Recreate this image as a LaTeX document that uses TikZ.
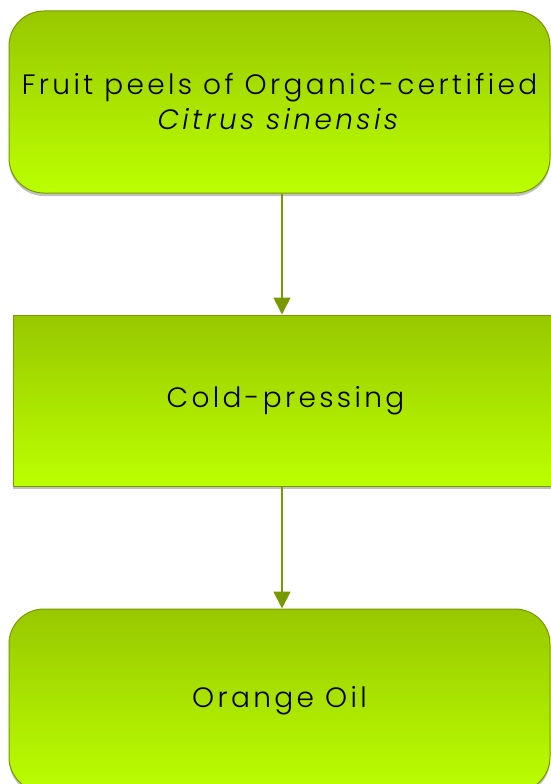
\documentclass[tikz,border=0pt]{standalone}
\usepackage{fontspec}
\setmainfont{Poppins}[UprightFont=* Light, ItalicFont=* Light Italic, LetterSpace=12]
\usetikzlibrary{positioning,shadows,arrows.meta}

\definecolor{leafdark}{HTML}{98C800}
\definecolor{leaflight}{HTML}{BBFF00}
\definecolor{olive}{HTML}{789A00}

\tikzset{
  stepnode/.style={draw=olive, line width=1pt, top color=leafdark, bottom color=leaflight,
                   align=center, font=\fontsize{28}{35}\selectfont,
                   drop shadow={shadow xshift=0pt, shadow yshift=-3pt, opacity=0.35, fill=black!70}},
  roundnode/.style={stepnode, rounded corners=35pt},
  flow/.style={draw=olive, line width=1.8pt, -{Triangle[length=17pt,width=17pt]}}
}

\begin{document}
\begin{tikzpicture}[x=1pt,y=-1pt]
  \useasboundingbox (0,0) rectangle (551,784);
  \clip (0,0) rectangle (551,784);

  \node[roundnode, minimum width=541pt, minimum height=182pt] (peels) at (279.5,102)
    {Fruit peels of Organic-certified\\\textit{Citrus sinensis}};
  \node[stepnode, minimum width=545pt, minimum height=171pt, below=121pt of peels, xshift=6pt] (press)
    {Cold-pressing};
  \node[roundnode, minimum width=541pt, minimum height=183pt, below=122pt of press, xshift=-6pt] (oil)
    {Orange Oil};

  \draw[flow] ([xshift=2.5pt]peels.south) -- ([xshift=2.5pt]peels.south |- press.north);
  \draw[flow] ([xshift=-3.5pt]press.south) -- ([xshift=-3.5pt]press.south |- oil.north);
\end{tikzpicture}
\end{document}
